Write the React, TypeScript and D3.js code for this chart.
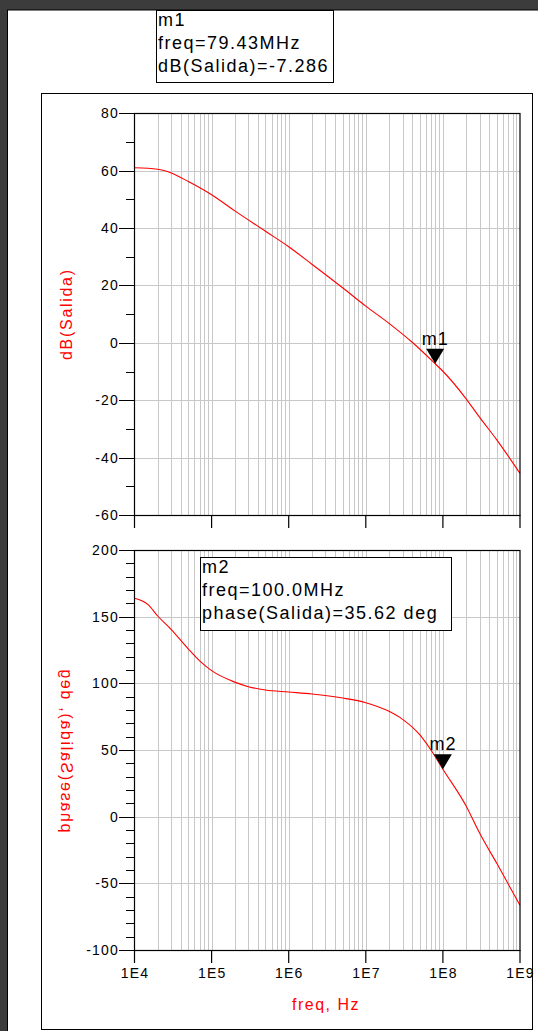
import { useEffect, useRef } from 'react'
import * as d3 from 'd3'

// Bode plot (magnitude + phase) from ADS, with markers m1 / m2.
const FREQ_DB = [1e4, 2e4, 3e4, 5e4, 1e5, 2e5, 5e5, 1e6, 2e6, 5e6, 1e7, 2e7, 4e7, 7.943e7, 1e8, 2e8, 3e8, 5e8, 1e9]
const DB = [61.0, 60.5, 59.2, 56.2, 51.6, 46.0, 38.9, 33.5, 27.4, 19.2, 12.8, 6.8, 0.2, -7.29, -9.9, -19.5, -26.0, -33.8, -45.5]

const FREQ_PH = [1e4, 1.5e4, 2e4, 3e4, 5e4, 7e4, 1e5, 2e5, 3e5, 5e5, 1e6, 2e6, 5e6, 1e7, 2e7, 3e7, 5e7, 7e7, 1e8, 2e8, 3e8, 5e8, 1e9]
const PHASE = [163.8, 159, 150.5, 140.3, 125.7, 116.8, 109.5, 100.9, 97.5, 95, 93.5, 92, 89, 85.5, 79, 73, 61.5, 50, 35.6, 8, -12.5, -35, -66.5]

const X_TICKS = [1e4, 1e5, 1e6, 1e7, 1e8, 1e9]
const X_LABELS = ['1E4', '1E5', '1E6', '1E7', '1E8', '1E9']
const DB_TICKS = [80, 60, 40, 20, 0, -20, -40, -60]
const PH_TICKS = [200, 150, 100, 50, 0, -50, -100]

const M1 = { freq: 7.943e7, value: -7.286, lines: ['m1', 'freq=79.43MHz', 'dB(Salida)=-7.286'] }
const M2 = { freq: 1e8, value: 35.62, lines: ['m2', 'freq=100.0MHz', 'phase(Salida)=35.62 deg'] }

const FONT = '"Liberation Sans", Arial, sans-serif'

export default function App() {
  const ref = useRef<SVGSVGElement>(null)

  useEffect(() => {
    const svg = d3.select(ref.current)
    svg.selectAll('*').remove()
    const W = 538, H = 1031

    // fondo oscuro + panel blanco
    svg.append('rect').attr('width', W).attr('height', H).attr('fill', '#3c3c3c')
    svg.append('rect').attr('x', 7.5).attr('y', 10).attr('width', W).attr('height', H)
      .attr('fill', '#fff').attr('stroke', '#000')
    svg.append('rect').attr('x', 41.5).attr('y', 93.5).attr('width', 491).attr('height', 936)
      .attr('fill', '#fff').attr('stroke', '#000')

    const x = d3.scaleLog().domain([1e4, 1e9]).range([134.5, 520])
    const minor: number[] = []
    for (let d = 1e4; d < 1e9; d *= 10) for (let k = 2; k <= 9; k++) minor.push(d * k)

    function panel(opts: {
      y: d3.ScaleLinear<number, number>, ticks: number[], minorStep: number,
      fx: number[], fy: number[], label: string, mirror: boolean, xLabels: boolean,
    }) {
      const { y } = opts
      const [top, bottom] = [y.range()[1], y.range()[0]]
      const g = svg.append('g')

      // rejilla
      g.selectAll('.vg').data([...minor, ...X_TICKS.slice(1, -1)]).join('line')
        .attr('x1', d => Math.round(x(d)) + 0.5).attr('x2', d => Math.round(x(d)) + 0.5)
        .attr('y1', top).attr('y2', bottom).attr('stroke', '#c8c8c8')
      g.selectAll('.hg').data(opts.ticks.slice(1, -1)).join('line')
        .attr('x1', x.range()[0]).attr('x2', x.range()[1])
        .attr('y1', d => Math.round(y(d)) + 0.5).attr('y2', d => Math.round(y(d)) + 0.5)
        .attr('stroke', '#c8c8c8')

      // curva
      const line = d3.line<number>().x((_, i) => x(opts.fx[i])).y(d => y(d)).curve(d3.curveMonotoneX)
      g.append('path').datum(opts.fy).attr('d', line).attr('fill', 'none')
        .attr('stroke', '#ff0000').attr('stroke-width', 1.1)

      // marco
      g.append('rect').attr('x', x.range()[0]).attr('y', Math.round(top) + 0.5)
        .attr('width', x.range()[1] - x.range()[0]).attr('height', Math.round(bottom) - Math.round(top))
        .attr('fill', 'none').attr('stroke', '#000').attr('stroke-width', 1.2)

      // eje y: ticks mayores / menores
      const [lo, hi] = y.domain()
      const minorY = d3.range(lo, hi + 0.001, opts.minorStep)
      g.selectAll('.my').data(minorY).join('line')
        .attr('x1', 126).attr('x2', x.range()[0])
        .attr('y1', d => Math.round(y(d)) + 0.5).attr('y2', d => Math.round(y(d)) + 0.5).attr('stroke', '#000')
      g.selectAll('.My').data(opts.ticks).join('line')
        .attr('x1', 119).attr('x2', x.range()[0])
        .attr('y1', d => Math.round(y(d)) + 0.5).attr('y2', d => Math.round(y(d)) + 0.5).attr('stroke', '#000')
      g.selectAll('.ty').data(opts.ticks).join('text')
        .attr('x', 119).attr('y', d => y(d) + 5).attr('text-anchor', 'end')
        .attr('font-family', FONT).attr('font-size', 14).attr('letter-spacing', 1.2)
        .text(d => String(d))

      // eje x: ticks de década hacia abajo
      g.selectAll('.tx').data(X_TICKS).join('line')
        .attr('x1', d => x(d)).attr('x2', d => x(d))
        .attr('y1', bottom).attr('y2', bottom + 13).attr('stroke', '#000').attr('stroke-width', 1.2)
      if (opts.xLabels) {
        g.selectAll('.lx').data(X_TICKS).join('text')
          .attr('x', d => x(d) + 0.6).attr('y', bottom + 28).attr('text-anchor', 'middle')
          .attr('font-family', FONT).attr('font-size', 14).attr('letter-spacing', 1.2)
          .text((_, i) => X_LABELS[i])
      }

      // etiqueta eje y (la de fase sale espejada en el original)
      const cy = (top + bottom) / 2
      g.append('text')
        .attr('transform', `translate(66,${cy}) rotate(-90)${opts.mirror ? ' scale(1,-1)' : ''}`)
        .attr('text-anchor', 'middle').attr('dominant-baseline', 'central')
        .attr('font-family', FONT).attr('font-size', 16).attr('letter-spacing', 1.7)
        .attr('fill', '#ff0000').text(opts.label)
    }

    const yDb = d3.scaleLinear().domain([-60, 80]).range([515, 113.3])
    const yPh = d3.scaleLinear().domain([-100, 200]).range([950, 550])

    panel({ y: yDb, ticks: DB_TICKS, minorStep: 10, fx: FREQ_DB, fy: DB, label: 'dB(Salida)', mirror: false, xLabels: false })
    panel({ y: yPh, ticks: PH_TICKS, minorStep: 10, fx: FREQ_PH, fy: PHASE, label: 'phase(Salida), deg', mirror: true, xLabels: true })

    svg.append('text').attr('x', 326).attr('y', 1010).attr('text-anchor', 'middle')
      .attr('font-family', FONT).attr('font-size', 16).attr('letter-spacing', 1.5)
      .attr('fill', '#ff0000').text('freq, Hz')

    // marcadores
    function marker(name: string, f: number, v: number, y: d3.ScaleLinear<number, number>) {
      const px = x(f), py = y(v)
      svg.append('path')
        .attr('d', `M${px - 9},${py - 15}L${px + 9},${py - 15}L${px},${py}Z`).attr('fill', '#000')
      svg.append('text').attr('x', px).attr('y', py - 19).attr('text-anchor', 'middle')
        .attr('font-family', FONT).attr('font-size', 18).attr('letter-spacing', 1)
        .text(name)
    }
    marker('m1', M1.freq, M1.value, yDb)
    marker('m2', M2.freq, M2.value, yPh)

    function readout(lines: string[], bx: number, by: number, bw: number, bh: number) {
      svg.append('rect').attr('x', bx + 0.5).attr('y', by + 0.5).attr('width', bw).attr('height', bh)
        .attr('fill', '#fff').attr('stroke', '#000')
      lines.forEach((t, i) => {
        svg.append('text').attr('x', bx + 2).attr('y', by + 16 + i * 23)
          .attr('font-family', FONT).attr('font-size', 18).attr('letter-spacing', 1.5)
          .text(t)
      })
    }
    readout(M1.lines, 156, 10, 177, 72)
    readout(M2.lines, 200, 557, 251, 73)
  }, [])

  return <svg ref={ref} width={538} height={1031} style={{ position: 'absolute', left: 0, top: 0 }} />
}
